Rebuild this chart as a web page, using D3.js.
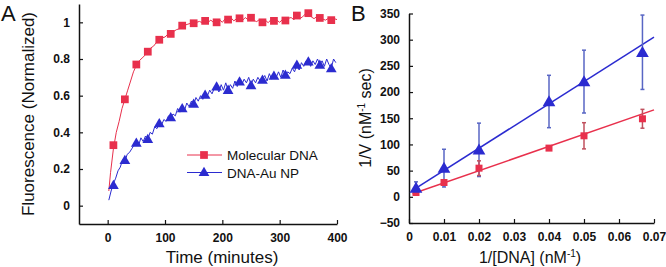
<!DOCTYPE html>
<html>
<head>
<meta charset="utf-8">
<script src="https://cdn.jsdelivr.net/npm/d3@7"></script>
<style>
  body { margin: 0; background: #fff; }
  svg { display: block; font-family: "Liberation Sans", Arial, sans-serif; }
  .tick text { font-weight: bold; font-size: 12px; fill: #111; }
  .domain { stroke: #111; stroke-width: 1.5px; }
  .tick line { stroke: #111; stroke-width: 1.2px; }
</style>
</head>
<body>
<div id="chart"></div>
<script>
// ---- Panel A: kinetics traces ----
const markerTime = [10, 30, 50, 70, 90, 110, 130, 150, 170, 190, 210, 230, 250, 270, 290, 310, 330, 350, 370, 390];
const molecularMarkers = [0.33, 0.58, 0.77, 0.84, 0.905, 0.937, 0.982, 0.995, 1.008, 1.0, 1.015, 1.022, 1.025, 1.0, 1.008, 1.01, 1.037, 1.05, 1.024, 1.012];
const auMarkers = [0.113, 0.25, 0.344, 0.364, 0.45, 0.483, 0.532, 0.556, 0.605, 0.65, 0.632, 0.678, 0.658, 0.687, 0.709, 0.714, 0.769, 0.787, 0.769, 0.75];

const molecularTraceTime = [2, 5, 10, 15, 20, 25, 30, 35, 40, 45, 50, 55, 60, 65, 70, 75, 80, 85, 90, 95,
  100, 105, 110, 115, 120, 125, 130, 135, 140, 145, 150, 155, 160, 165, 170, 175, 180, 185, 190, 195,
  200, 205, 210, 215, 220, 225, 230, 235, 240, 245, 250, 255, 260, 265, 270, 275, 280, 285, 290, 295,
  300, 305, 310, 315, 320, 325, 330, 335, 340, 345, 350, 355, 360, 365, 370, 375, 380, 385, 390, 395, 400];
const molecularTrace = [0.08, 0.18, 0.31, 0.40, 0.46, 0.53, 0.58, 0.63, 0.68, 0.73, 0.765, 0.79, 0.805, 0.82, 0.84, 0.86, 0.87, 0.89, 0.905, 0.915,
  0.92, 0.935, 0.94, 0.95, 0.96, 0.965, 0.98, 0.985, 0.99, 0.995, 0.995, 1.0, 1.005, 0.998, 1.01, 1.0, 1.012, 0.998, 1.005, 1.015,
  1.0, 1.02, 1.012, 1.025, 1.008, 1.02, 1.022, 1.01, 1.026, 1.014, 1.025, 1.01, 1.004, 1.016, 1.0, 1.012, 0.998, 1.015, 1.005, 1.012,
  1.0, 1.016, 1.01, 1.022, 1.026, 1.014, 1.036, 1.02, 1.03, 1.046, 1.05, 1.03, 1.02, 1.032, 1.024, 1.018, 1.012, 1.022, 1.01, 1.02, 1.015];

const auTraceTime = [2, 6, 10, 14, 18, 22, 26, 30, 34, 38, 42, 46, 50, 54, 58, 62, 66, 70, 74, 78,
  82, 86, 90, 94, 98, 102, 106, 110, 114, 118, 122, 126, 130, 134, 138, 142, 146, 150, 154, 158,
  162, 166, 170, 174, 178, 182, 186, 190, 194, 198, 202, 206, 210, 214, 218, 222, 226, 230, 234, 238,
  242, 246, 250, 254, 258, 262, 266, 270, 274, 278, 282, 286, 290, 294, 298, 302, 306, 310, 314, 318,
  322, 326, 330, 334, 338, 342, 346, 350, 354, 358, 362, 366, 370, 374, 378, 382, 386, 390, 394, 398];
const auTrace = [0.03, 0.08, 0.12, 0.15, 0.19, 0.21, 0.25, 0.24, 0.28, 0.29, 0.31, 0.33, 0.35, 0.33, 0.37, 0.35, 0.38, 0.36, 0.40, 0.39,
  0.43, 0.42, 0.45, 0.44, 0.47, 0.46, 0.49, 0.48, 0.50, 0.49, 0.53, 0.51, 0.54, 0.52, 0.56, 0.54, 0.57, 0.55, 0.59, 0.57,
  0.60, 0.58, 0.61, 0.60, 0.63, 0.61, 0.64, 0.65, 0.62, 0.66, 0.63, 0.67, 0.63, 0.66, 0.64, 0.68, 0.65, 0.68, 0.66, 0.69,
  0.67, 0.70, 0.66, 0.69, 0.67, 0.70, 0.68, 0.69, 0.71, 0.68, 0.72, 0.69, 0.71, 0.70, 0.73, 0.70, 0.74, 0.71, 0.73, 0.72,
  0.75, 0.73, 0.77, 0.74, 0.78, 0.76, 0.79, 0.79, 0.76, 0.79, 0.77, 0.80, 0.77, 0.79, 0.76, 0.80, 0.77, 0.75, 0.80, 0.78];

const timeTicks = [0, 100, 200, 300, 400];
const fluorTicks = [0, 0.2, 0.4, 0.6, 0.8, 1];
const legendLabels = ["Molecular DNA", "DNA-Au NP"];

// ---- Panel B: Lineweaver-Burk ----
const invDNA = [0.002, 0.01, 0.02, 0.04, 0.05, 0.0667];
const molecularInvV = [8.2, 27.3, 54.7, 93, 116.5, 149];
const molecularErr = [3, 3, 14, 4, 25, 18];
const auInvV = [16.6, 54.8, 89.7, 182, 220, 276];
const auErr = [12, 36, 51, 50, 60, 71];
const fitX = [0.001, 0.07];
const molecularFit = [5.7, 166];
const auFit = [12.2, 305];
const invDNATicks = [0, 0.01, 0.02, 0.03, 0.04, 0.05, 0.06, 0.07];
const invVTicks = [-50, 0, 50, 100, 150, 200, 250, 300, 350];

const RED = "#e8304c", BLUE = "#2b2bd0";
const RED_ERR = "#c0505e", BLUE_ERR = "#5866c4";

const width = 666, height = 267;
const svg = d3.select("#chart").append("svg").attr("width", width).attr("height", height);

const sq = d3.symbol().type(d3.symbolSquare);
const tri = d3.symbol().type(d3.symbolTriangle);

// ===== Panel A =====
const xA = d3.scaleLinear().domain([-50, 400]).range([79, 337]);
const yA = d3.scaleLinear().domain([-0.1, 1.1]).range([224, 4]);

svg.append("g")
  .attr("transform", `translate(0,${yA(-0.1)})`)
  .call(d3.axisBottom(xA).tickValues(timeTicks).tickSizeInner(-4).tickSizeOuter(0).tickPadding(9));
svg.append("g")
  .attr("transform", `translate(${xA(-50)},0)`)
  .call(d3.axisLeft(yA).tickValues(fluorTicks).tickSizeInner(-4).tickSizeOuter(0).tickPadding(9)
    .tickFormat(d => d === 0 || d === 1 ? d : d3.format(".1f")(d)));

const lineA = (xs) => d3.line().x((d, i) => xA(xs[i])).y(d => yA(d));

svg.append("path").datum(molecularTrace)
  .attr("fill", "none").attr("stroke", RED).attr("stroke-width", 1)
  .attr("d", lineA(molecularTraceTime));
svg.append("path").datum(auTrace)
  .attr("fill", "none").attr("stroke", BLUE).attr("stroke-width", 1)
  .attr("d", lineA(auTraceTime));

svg.append("g").selectAll("path").data(molecularMarkers).join("path")
  .attr("d", sq.size(60))
  .attr("transform", (d, i) => `translate(${xA(markerTime[i])},${yA(d)})`)
  .attr("fill", RED);
svg.append("g").selectAll("path").data(auMarkers).join("path")
  .attr("d", tri.size(50))
  .attr("transform", (d, i) => `translate(${xA(markerTime[i])},${yA(d) + 1})`)
  .attr("fill", BLUE);

// legend
const legend = svg.append("g");
[[RED, sq.size(60)], [BLUE, tri.size(50)]].forEach(([c, sym], i) => {
  const y = 155 + i * 17.5;
  legend.append("line").attr("x1", 187).attr("x2", 222).attr("y1", y).attr("y2", y)
    .attr("stroke", c).attr("stroke-width", 1);
  legend.append("path").attr("d", sym).attr("fill", c)
    .attr("transform", `translate(204,${y + (i ? 0.5 : 0)})`);
  legend.append("text").attr("x", 227).attr("y", y + 5).attr("font-size", 13.5).attr("fill", "#111")
    .text(legendLabels[i]);
});

svg.append("text").attr("x", 222).attr("y", 263).attr("text-anchor", "middle")
  .attr("font-size", 17).attr("fill", "#111").text("Time (minutes)");
svg.append("text").attr("transform", "translate(34,114) rotate(-90)").attr("text-anchor", "middle")
  .attr("font-size", 17).attr("fill", "#111").text("Fluorescence (Normalized)");
svg.append("text").attr("x", 1).attr("y", 21).attr("font-size", 22).attr("fill", "#111").text("A");

// ===== Panel B =====
const xB = d3.scaleLinear().domain([0, 0.07]).range([409, 654]);
const yB = d3.scaleLinear().domain([-50, 350]).range([223, 13.5]);

svg.append("g")
  .attr("transform", `translate(0,${yB(-50)})`)
  .call(d3.axisBottom(xB).tickValues(invDNATicks).tickSizeInner(-4).tickSizeOuter(0).tickPadding(9)
    .tickFormat(d => d === 0 ? "0" : d3.format(".2f")(d)));
svg.append("g")
  .attr("transform", `translate(${xB(0)},0)`)
  .call(d3.axisLeft(yB).tickValues(invVTicks).tickSizeInner(-4).tickSizeOuter(0).tickPadding(9));

const fitLine = d3.line().x((d, i) => xB(fitX[i])).y(d => yB(d));
svg.append("path").datum(auFit).attr("fill", "none").attr("stroke", BLUE).attr("stroke-width", 1.5).attr("d", fitLine);
svg.append("path").datum(molecularFit).attr("fill", "none").attr("stroke", RED).attr("stroke-width", 1.5).attr("d", fitLine);

function errorBars(vals, errs, color) {
  const g = svg.append("g").attr("stroke", color).attr("stroke-width", 1.5);
  vals.forEach((v, i) => {
    const x = xB(invDNA[i]);
    g.append("line").attr("x1", x).attr("x2", x).attr("y1", yB(v - errs[i])).attr("y2", yB(v + errs[i]));
    [v - errs[i], v + errs[i]].forEach(e => {
      g.append("line").attr("x1", x - 2).attr("x2", x + 2).attr("y1", yB(e)).attr("y2", yB(e));
    });
  });
}
errorBars(auInvV, auErr, BLUE_ERR);
errorBars(molecularInvV, molecularErr, RED_ERR);

svg.append("g").selectAll("path").data(molecularInvV).join("path")
  .attr("d", sq.size(49))
  .attr("transform", (d, i) => `translate(${xB(invDNA[i])},${yB(d)})`)
  .attr("fill", RED);
svg.append("g").selectAll("path").data(auInvV).join("path")
  .attr("d", tri.size(70))
  .attr("transform", (d, i) => `translate(${xB(invDNA[i])},${yB(d) + 1})`)
  .attr("fill", BLUE);

const xl = svg.append("text").attr("x", 530).attr("y", 263).attr("text-anchor", "middle")
  .attr("font-size", 16).attr("fill", "#111");
xl.append("tspan").text("1/[DNA] (nM");
xl.append("tspan").attr("font-size", 10).attr("dy", -6).text("-1");
xl.append("tspan").attr("dy", 6).text(")");

const yl = svg.append("text").attr("transform", "translate(371,118) rotate(-90)").attr("text-anchor", "middle")
  .attr("font-size", 16).attr("fill", "#111");
yl.append("tspan").text("1/V (nM");
yl.append("tspan").attr("font-size", 10).attr("dy", -6).text("-1");
yl.append("tspan").attr("dy", 6).text(" sec)");

svg.append("text").attr("x", 351).attr("y", 21).attr("font-size", 22).attr("fill", "#111").text("B");
</script>
</body>
</html>
